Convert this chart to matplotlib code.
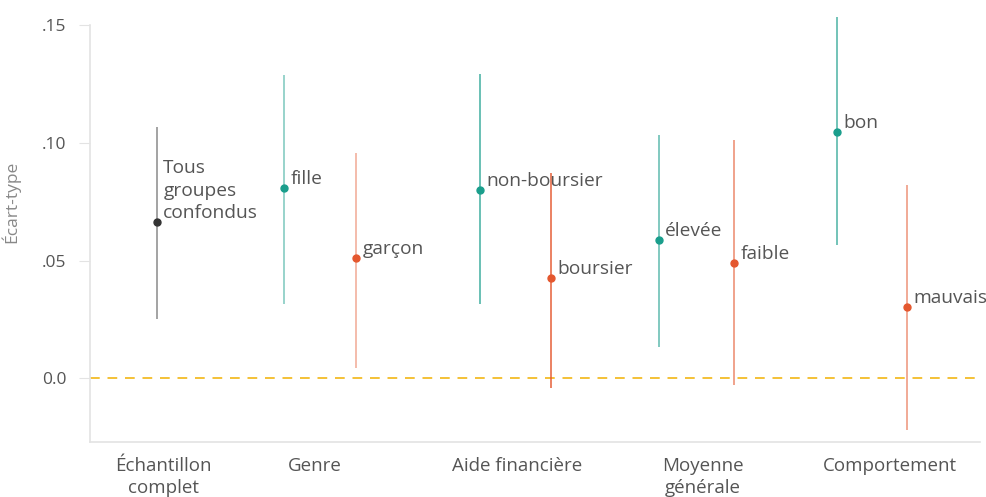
import numpy as np
import matplotlib.pyplot as plt

# data
labels = ['Tous\ngroupes\nconfondus', 'fille', 'garçon', 'non-boursier', 'boursier',
          'élevée', 'faible', 'bon', 'mauvais']
estimate = [0.0665, 0.0807, 0.0512, 0.0800, 0.0424, 0.0587, 0.0488, 0.1045, 0.0301]
ci_low = [0.0251, 0.0314, 0.0041, 0.0314, -0.0044, 0.0133, -0.0030, 0.0566, -0.0221]
ci_high = [0.1070, 0.1290, 0.0956, 0.1294, 0.0874, 0.1034, 0.1013, 0.1538, 0.0821]
group = ['all', 'hi', 'lo', 'hi', 'lo', 'hi', 'lo', 'hi', 'lo']
group_names = ['Échantillon\ncomplet', 'Genre', 'Aide financière', 'Moyenne\ngénérale', 'Comportement']

# layout (x positions along the axis)
x_points = [1.57, 2.84, 3.56, 4.80, 5.51, 6.59, 7.34, 8.37, 9.07]
x_groups = [1.63, 3.15, 5.17, 7.03, 8.90]
line_alpha = [0.45, 0.45, 0.4, 0.65, 0.75, 0.55, 0.55, 0.62, 0.5]

colors = {'all': '#333333', 'hi': '#1a9e8c', 'lo': '#e4572e'}
txt = '#555555'

plt.rcParams['font.family'] = ['Open Sans', 'DejaVu Sans']

fig = plt.figure(figsize=(9.87, 4.97), dpi=100)
ax = fig.add_axes([0.0912, 0.1107, 0.9018, 0.8712])

ax.axhline(0, color='#f4c136', lw=1.4, ls=(0, (5, 4)), zorder=1)

for i in range(len(labels)):
    c = colors[group[i]]
    ax.vlines(x_points[i], ci_low[i], ci_high[i], color=c, alpha=line_alpha[i], lw=1.4, zorder=2)
    ax.plot(x_points[i], estimate[i], 'o', color=c, ms=5, zorder=3)
    ax.annotate(labels[i], (x_points[i], estimate[i]), xytext=(4.5, 0),
                textcoords='offset points', ha='left', va='bottom',
                fontsize=13.8, color=txt, linespacing=1.3)

ax.set_xlim(0.90, 9.80)
ax.set_ylim(-0.0272, 0.157)
ax.set_yticks([0.0, 0.05, 0.10, 0.15])
ax.set_yticklabels(['0.0', '.05', '.10', '.15'])
ax.set_xticks(x_groups)
ax.set_xticklabels(group_names)

for s in ['top', 'right']:
    ax.spines[s].set_visible(False)
for s in ['left', 'bottom']:
    ax.spines[s].set_color('#e3e3e3')
    ax.spines[s].set_linewidth(1.2)
ax.spines['left'].set_bounds(-0.0272, 0.15)

ax.tick_params(axis='y', length=8, color='#e3e3e3', pad=9, labelsize=12.5, labelcolor=txt)
ax.tick_params(axis='x', length=0, pad=11, labelsize=13.5, labelcolor=txt)
for t in ax.get_xticklabels():
    t.set_linespacing(1.25)

ax.set_ylabel('Écart-type', fontsize=12.5, color='#888888')
ax.yaxis.set_label_coords(-0.0787, 0.554)

fig.savefig('out.png', dpi=100)
